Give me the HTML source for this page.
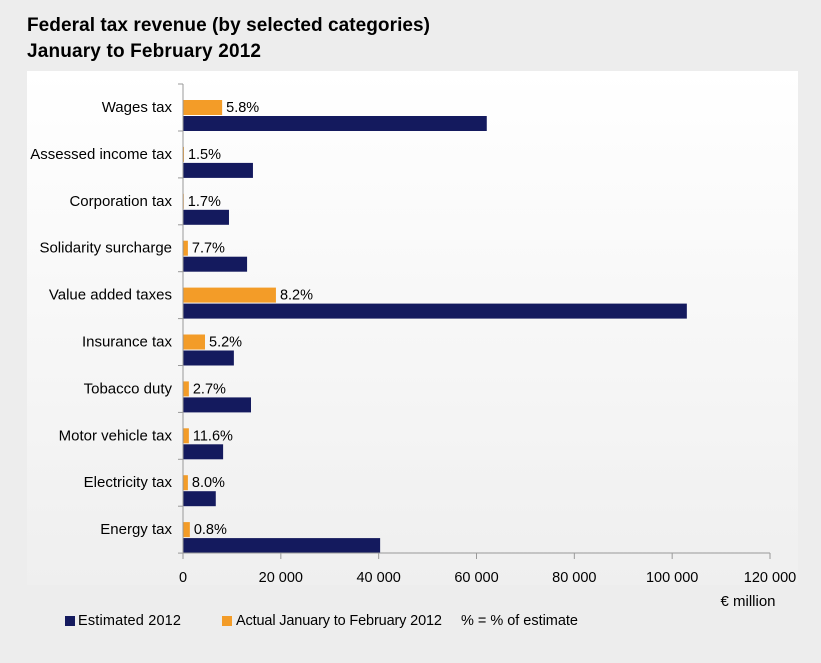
<!DOCTYPE html>
<html><head><meta charset="utf-8"><style>
body{margin:0;background:#ededed;font-family:"Liberation Sans",sans-serif;}
#wrap{position:relative;width:821px;height:663px;overflow:hidden;}
</style></head><body>
<div id="wrap">
<svg width="821" height="663" xmlns="http://www.w3.org/2000/svg" id="svg">
<defs><linearGradient id="pg" x1="0" y1="0" x2="0" y2="1"><stop offset="0" stop-color="#ffffff"/><stop offset="1" stop-color="#efefef"/></linearGradient></defs>
<text x="27" y="31" font-size="19" font-weight="bold" fill="#000" textLength="403">Federal tax revenue (by selected categories)</text>
<text x="27" y="57" font-size="19" font-weight="bold" fill="#000" textLength="234">January to February 2012</text>
<rect x="27" y="71" width="771" height="514" fill="url(#pg)"/>
<g id="marks"></g>
<text x="748" y="606" font-size="15" text-anchor="middle" fill="#000">€ million</text>
<rect x="65" y="616" width="10" height="10" fill="#141a5e"/>
<text x="78" y="625" font-size="14.5" fill="#000" textLength="103">Estimated 2012</text>
<rect x="222" y="616" width="10" height="10" fill="#f39c28"/>
<text x="236" y="625" font-size="14.5" fill="#000" textLength="206">Actual January to February 2012</text>
<text x="461" y="625" font-size="14.5" fill="#000" textLength="117">% = % of estimate</text>
</svg>
</div>
<script>
const categories=["Wages tax","Assessed income tax","Corporation tax","Solidarity surcharge","Value added taxes","Insurance tax","Tobacco duty","Motor vehicle tax","Electricity tax","Energy tax"];
const estimated=[62100,14300,9400,13100,103000,10400,13900,8200,6700,40300];
const actual=[8000,200,160,1000,19000,4500,1200,1200,1000,1400];
const pctLabels=["5.8%","1.5%","1.7%","7.7%","8.2%","5.2%","2.7%","11.6%","8.0%","0.8%"];
const xTicks=[0,20000,40000,60000,80000,100000,120000];
const xTickLabels=["0","20 000","40 000","60 000","80 000","100 000","120 000"];
const NS="http://www.w3.org/2000/svg";
const g=document.getElementById("marks");
const X0=183,X1=770,Y0=84,Y1=553,XMAX=120000;
const band=(Y1-Y0)/categories.length;
function x(v){return X0+v/XMAX*(X1-X0);}
function yc(i){return Y0+i*band;}
function mk(tag,a){const e=document.createElementNS(NS,tag);for(const k in a)e.setAttribute(k,a[k]);g.appendChild(e);return e;}
categories.forEach((c,i)=>{
  const y=yc(i);
  const o=mk("rect",{x:X0,y:y+16,width:Math.max(0,x(actual[i])-X0),height:15,fill:"#f39c28"});
  
  
  const n=mk("rect",{x:X0,y:y+32,width:x(estimated[i])-X0,height:15,fill:"#141a5e"});
  
  
  const l=mk("text",{x:172,y:y+28,"font-size":15,"text-anchor":"end",fill:"#000"});
  l.textContent=c;
  
  
  const p=mk("text",{x:x(actual[i])+4,y:y+28,"font-size":14.5,fill:"#000"});
  p.textContent=pctLabels[i];
  
  
  const t=mk("line",{x1:178,x2:X0,y1:y+47,y2:y+47,stroke:"#999"});
  
  
});
const ya=mk("line",{x1:X0,x2:X0,y1:Y0,y2:Y1,stroke:"#999"});


const t0=mk("line",{x1:178,x2:X0,y1:Y0,y2:Y0,stroke:"#999"});


const xa=mk("line",{x1:X0,x2:X1,y1:Y1,y2:Y1,stroke:"#999"});


xTicks.forEach((v,i)=>{
  const t=mk("line",{x1:x(v),x2:x(v),y1:Y1,y2:Y1+6,stroke:"#999"});
  
  
  const l=mk("text",{x:x(v),y:582,"font-size":14.5,"text-anchor":"middle",fill:"#000"});
  l.textContent=xTickLabels[i];
  
  
});
</script>
</body></html>
